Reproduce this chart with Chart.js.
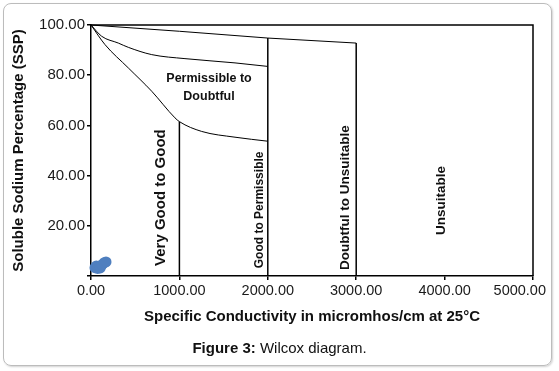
<!DOCTYPE html>
<html>
<head>
<meta charset="utf-8">
<script src="https://cdn.jsdelivr.net/npm/chart.js@4.4.0/dist/chart.umd.min.js"></script>
<style>
  body { margin: 0; background: #fff; font-family: "Liberation Sans", Arial, sans-serif; }
  #wrap { position: relative; width: 559px; height: 371px; }
  #frame { position: absolute; left: 3px; top: 3px; width: 547px; height: 361px;
           border: 1px solid #bcbcbc; border-radius: 8px; box-shadow: 1px 1px 2px rgba(0,0,0,0.18); }
  canvas { position: absolute; left: 0; top: 0; }
  #caption { position: absolute; top: 339px; left: 0; width: 559px; text-align: center;
             font-size: 15px; color: #111; }
</style>
</head>
<body>
<div id="wrap">
  <div id="frame"></div>
  <canvas id="wilcox" width="559" height="371"></canvas>
  <div id="caption"><b>Figure 3:</b> Wilcox diagram.</div>
</div>
<script>
// sample points (EC, SSP)
const sampleEC  = [45, 60, 75, 95, 105, 125, 150, 170];
const sampleSSP = [3.3, 4.0, 3.0, 3.8, 3.2, 4.5, 5.3, 5.6];

// class boundary curves
const curveLowX  = [0, 158, 422, 687, 950, 1000, 1252, 1629, 2000];
const curveLowY  = [100, 92.2, 82.9, 73.6, 63, 61.5, 57.6, 55.3, 53.7];
const curveMidX  = [0, 121, 309, 422, 687, 1063, 1629, 2000];
const curveMidY  = [100, 95.5, 92.8, 91.1, 88.2, 86.6, 84.9, 83.5];
const curveTopX  = [0, 1000, 2000, 3000];
const curveTopY  = [100, 97.5, 94.8, 92.8];

// outer box (top and right edge)
const boxX = [0, 5000, 5000];
const boxY = [100, 100, 0];

// vertical dividers: x and the height where they meet a curve
const dividerX   = [1000, 2000, 3000];
const dividerTop = [61.5, 94.8, 92.8];

// zone labels (anchored at the bottom of the rotated text)
const zoneNames = ['Very Good to Good', 'Good to Permissible', 'Doubtful to Unsuitable', 'Unsuitable'];
const zoneX     = [789, 1912, 2873, 3967];
const zoneY     = [4.0, 3.1, 2.4, 16.3];
const zoneSize  = [15, 12, 13.5, 13.5];
const topZoneLines = ['Permissible to', 'Doubtful'];
const topZoneX = 1335;
const topZoneY = [78.6, 71.4];

const toXY = (xs, ys) => xs.map((x, i) => ({ x: x, y: ys[i] }));

function lineSet(data, width) {
  return {
    type: 'line', data: data, borderColor: '#000', borderWidth: width,
    pointRadius: 0, showLine: true, fill: false, tension: 0, clip: false
  };
}

const datasets = [];
datasets.push(Object.assign(lineSet(toXY(curveLowX, curveLowY), 1), { cubicInterpolationMode: 'monotone' }));
datasets.push(Object.assign(lineSet(toXY(curveMidX, curveMidY), 1), { cubicInterpolationMode: 'monotone' }));
datasets.push(lineSet(toXY(curveTopX, curveTopY), 1));
datasets.push(lineSet(toXY(boxX, boxY), 1.5));
dividerX.forEach((x, i) => {
  datasets.push(lineSet([{ x: x, y: 0 }, { x: x, y: dividerTop[i] }], 1.5));
});
datasets.push({
  type: 'scatter',
  data: toXY(sampleEC, sampleSSP),
  backgroundColor: '#4f7fbf',
  borderWidth: 0,
  pointRadius: 5.5,
  clip: false
});

const zoneLabels = {
  id: 'zoneLabels',
  afterDatasetsDraw(chart) {
    const ctx = chart.ctx, xs = chart.scales.x, ys = chart.scales.y;
    ctx.save();
    ctx.fillStyle = '#111';
    ctx.textBaseline = 'middle';
    ctx.textAlign = 'left';
    zoneNames.forEach((name, i) => {
      ctx.save();
      ctx.font = 'bold ' + zoneSize[i] + 'px "Liberation Sans", Arial, sans-serif';
      ctx.translate(xs.getPixelForValue(zoneX[i]), ys.getPixelForValue(zoneY[i]));
      ctx.rotate(-Math.PI / 2);
      ctx.fillText(name, 0, 0);
      ctx.restore();
    });
    ctx.font = 'bold 12.5px "Liberation Sans", Arial, sans-serif';
    ctx.textAlign = 'center';
    topZoneLines.forEach((t, i) => {
      ctx.fillText(t, xs.getPixelForValue(topZoneX), ys.getPixelForValue(topZoneY[i]));
    });
    ctx.restore();
  }
};

// pull the last x label inside the plot, like the original
const lastLabelIn = {
  id: 'lastLabelIn',
  beforeDraw(chart) {
    const items = chart.scales.x.getLabelItems();
    const last = items[items.length - 1];
    if (last) {
      last.options.textAlign = 'right';
      last.options.translation[0] = chart.chartArea.right + 13;
    }
  }
};

const xTickFont = { family: '"Liberation Sans", Arial, sans-serif', size: 14.5 };
const yTickFont = { family: '"Liberation Sans", Arial, sans-serif', size: 15 };
const titleFont = { family: '"Liberation Sans", Arial, sans-serif', size: 15, weight: 'bold' };

new Chart(document.getElementById('wilcox'), {
  type: 'scatter',
  data: { datasets: datasets },
  options: {
    responsive: false,
    animation: false,
    layout: { padding: { left: 6, top: 25, right: 26, bottom: 41 } },
    plugins: { legend: { display: false }, tooltip: { enabled: false } },
    scales: {
      x: {
        type: 'linear', min: 0, max: 5000,
        afterFit: s => { s.height = 54; s.paddingRight = 0; },
        ticks: { stepSize: 1000, color: '#1a1a1a', font: xTickFont, padding: 2,
                 maxRotation: 0, callback: v => v.toFixed(2) },
        grid: { drawOnChartArea: false, drawTicks: true, tickLength: 4, color: '#000', lineWidth: 1.5 },
        border: { display: true, color: '#000', width: 1.5 },
        title: { display: true, text: 'Specific Conductivity in micromhos/cm at 25°C',
                 color: '#111', font: titleFont, padding: { top: 4, bottom: 4 } }
      },
      y: {
        type: 'linear', min: 0, max: 100,
        afterFit: s => { s.width = 85; },
        ticks: { stepSize: 20, color: '#1a1a1a', font: yTickFont, padding: 2,
                 callback: v => v === 0 ? '' : v.toFixed(2) },
        grid: { drawOnChartArea: false, drawTicks: true, tickLength: 4, color: '#000', lineWidth: 1.5 },
        border: { display: true, color: '#000', width: 1.5 },
        title: { display: true, text: 'Soluble Sodium Percentage (SSP)',
                 color: '#111', font: titleFont, padding: { top: 4, bottom: 4 } }
      }
    }
  },
  plugins: [zoneLabels, lastLabelIn]
});
</script>
</body>
</html>
